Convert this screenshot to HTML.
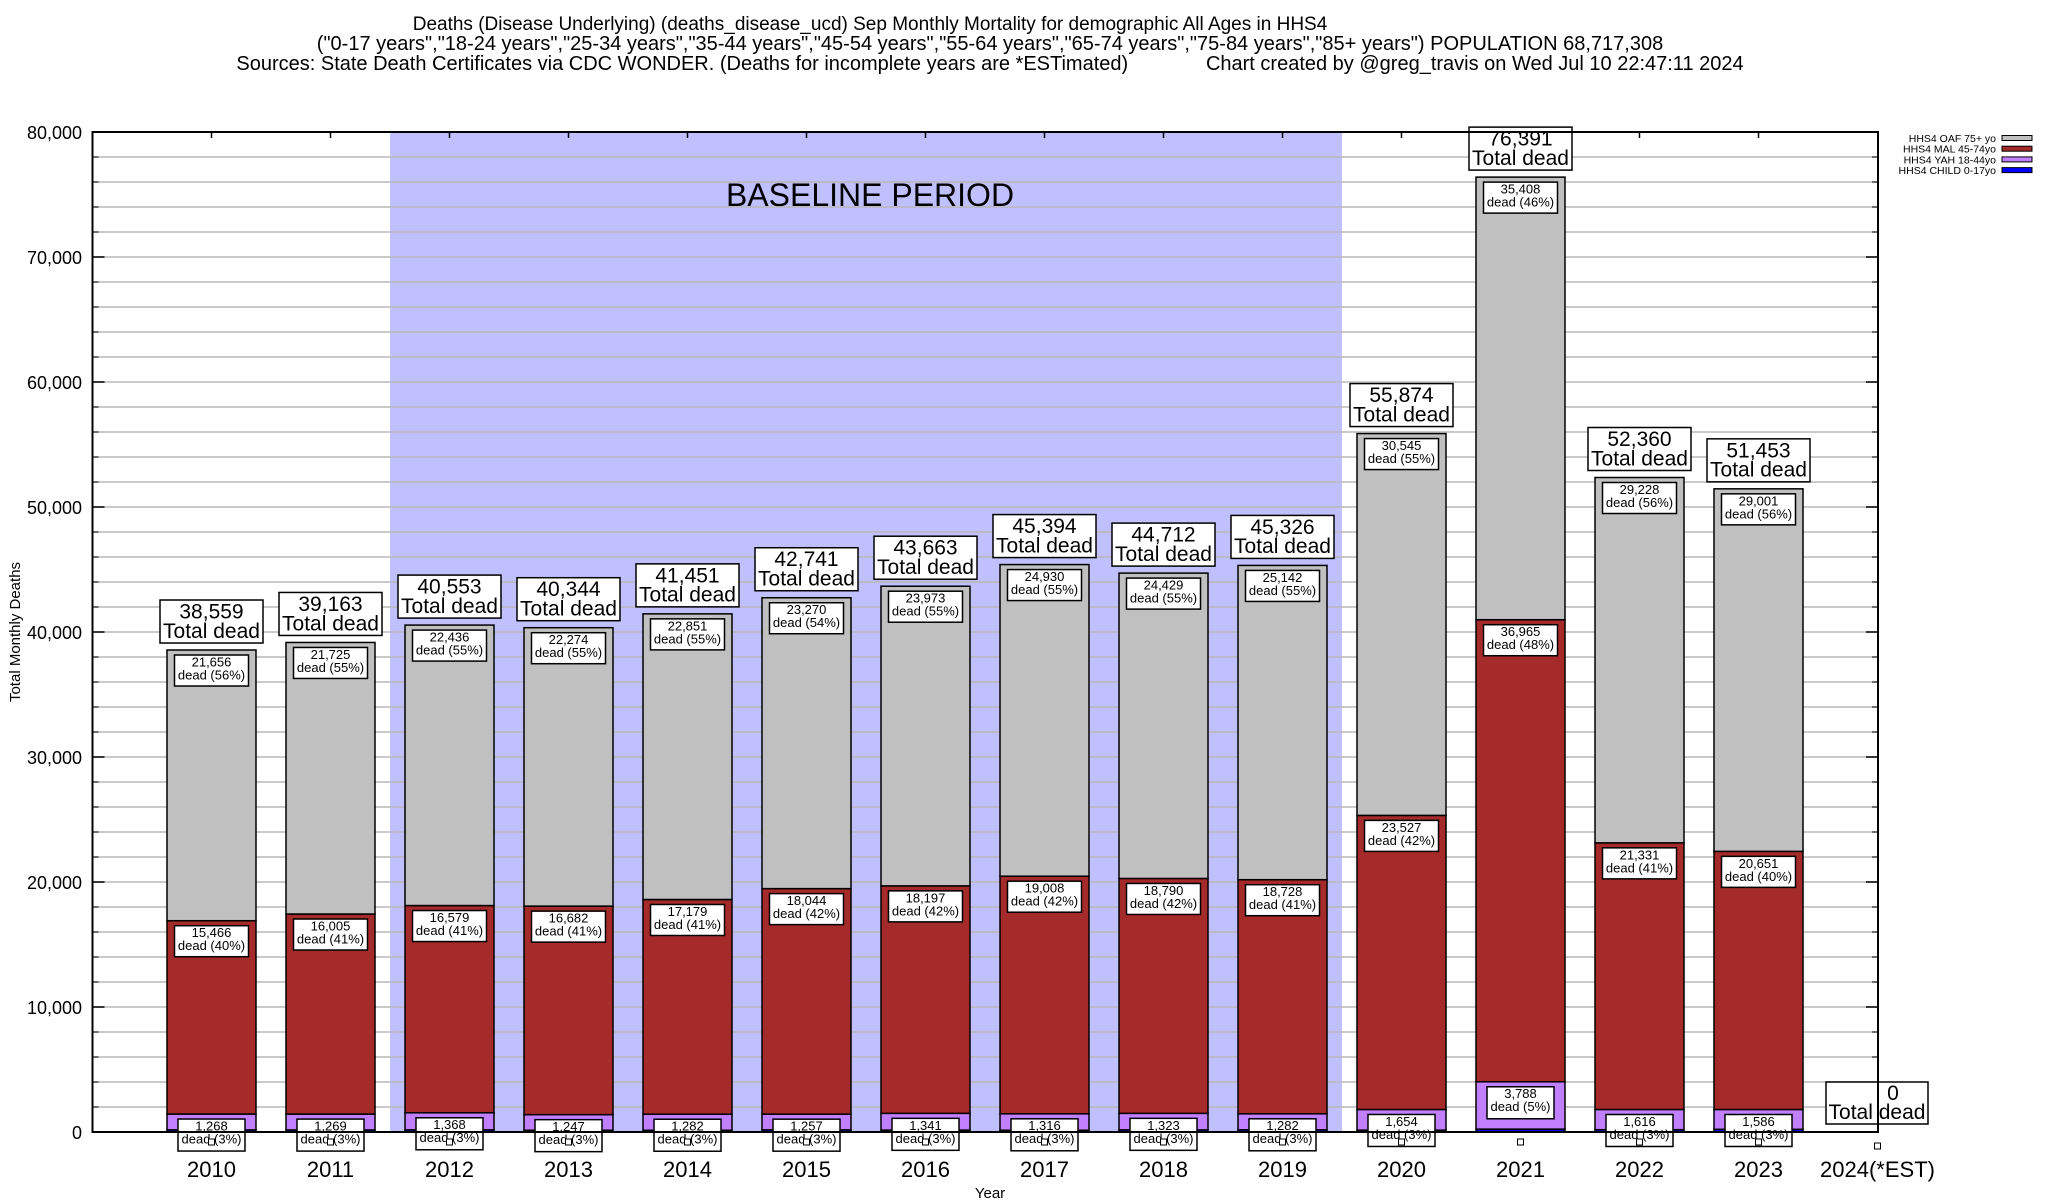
<!DOCTYPE html>
<html><head><meta charset="utf-8">
<style>
html,body{margin:0;padding:0;background:#fff;}
svg{display:block;font-family:"Liberation Sans",Arial,sans-serif;}
</style></head>
<body>
<svg id="chart" width="2048" height="1200" viewBox="0 0 2048 1200" xmlns="http://www.w3.org/2000/svg">
<g text-anchor="middle" fill="#000">
<text x="870" y="30" font-size="19">Deaths (Disease Underlying) (deaths_disease_ucd) Sep Monthly Mortality for demographic All Ages in HHS4</text>
<text x="990" y="50" font-size="20">("0-17 years","18-24 years","25-34 years","35-44 years","45-54 years","55-64 years","65-74 years","75-84 years","85+ years") POPULATION 68,717,308</text>
<text x="990" y="70" font-size="20" xml:space="preserve">Sources: State Death Certificates via CDC WONDER. (Deaths for incomplete years are *ESTimated)              Chart created by @greg_travis on Wed Jul 10 22:47:11 2024</text>
</g>
<g id="plot"></g>
</svg>
<script>
const years = ["2010","2011","2012","2013","2014","2015","2016","2017","2018","2019","2020","2021","2022","2023"];
const totals = [38559,39163,40553,40344,41451,42741,43663,45394,44712,45326,55874,76391,52360,51453];
const oaf = [21656,21725,22436,22274,22851,23270,23973,24930,24429,25142,30545,35408,29228,29001];
const oafPct = [56,55,55,55,55,54,55,55,55,55,55,46,56,56];
const mal = [15466,16005,16579,16682,17179,18044,18197,19008,18790,18728,23527,36965,21331,20651];
const malPct = [40,41,41,41,41,42,42,42,42,41,42,48,41,40];
const yah = [1268,1269,1368,1247,1282,1257,1341,1316,1323,1282,1654,3788,1616,1586];
const yahPct = [3,3,3,3,3,3,3,3,3,3,3,5,3,3];
const yTicks = [0,10000,20000,30000,40000,50000,60000,70000,80000];
const legendLabels = ["HHS4 OAF 75+ yo","HHS4 MAL 45-74yo","HHS4 YAH 18-44yo","HHS4 CHILD 0-17yo"];
const legendColors = ["#c0c0c0","#a52a2a","#c080ff","#0000ff"];

const NS="http://www.w3.org/2000/svg";
const L=92.5,R=1878,T=132,B=1132;
const xs=v=>L+(v-2009)*119;
const ys=v=>B-(v/80000)*(B-T);
const fmt=n=>n.toLocaleString('en-US');
const plot=document.getElementById('plot');
function el(tag,attrs,parent,text){const e=document.createElementNS(NS,tag);for(const k in attrs)e.setAttribute(k,attrs[k]);if(text!==undefined)e.textContent=text;(parent||plot).appendChild(e);return e;}

const bs=el('rect',{x:xs(2011.5),y:T,width:xs(2019.5)-xs(2011.5),height:B-T,fill:'#c0c0ff'});


const bt=el('text',{x:870,y:206,'font-size':32,'text-anchor':'middle'},plot,'BASELINE PERIOD');



for(let v=2000;v<80000;v+=2000){
  const g=el('line',{x1:L,x2:R,y1:ys(v),y2:ys(v),stroke:'#b8b8b8','stroke-width':1.5});
  
  
  el('line',{x1:L,x2:L+6,y1:ys(v),y2:ys(v),stroke:'#000','stroke-width':1});
  el('line',{x1:R-6,x2:R,y1:ys(v),y2:ys(v),stroke:'#000','stroke-width':1});
}
yTicks.forEach(v=>{
  const t=el('text',{x:82,y:ys(v)+7,'font-size':18,'text-anchor':'end'},plot,fmt(v));
  
  
  el('line',{x1:L,x2:L+12,y1:ys(v),y2:ys(v),stroke:'#000','stroke-width':1.5});
  el('line',{x1:R-12,x2:R,y1:ys(v),y2:ys(v),stroke:'#000','stroke-width':1.5});
});

function labelBox(cx,top,w,h,lines,fs,name,lh){
  const g=el('g',{});
  
  
  el('rect',{x:cx-w/2,y:top,width:w,height:h,fill:'#fff',stroke:'#000','stroke-width':1.5},g);
  lines.forEach((s,i)=>el('text',{x:cx,y:top+fs*0.88+i*fs*lh,'font-size':fs,'text-anchor':'middle'},g,s));
}

const bw=89;
years.forEach((yr,i)=>{
  const cx=xs(2010+i);
  const child=totals[i]-oaf[i]-mal[i]-yah[i];
  const segs=[[child,'#0000ff','child'],[yah[i],'#c080ff','yah'],[mal[i],'#a52a2a','mal'],[oaf[i],'#c0c0c0','oaf']];
  let acc=0;
  segs.forEach(([v,c,n])=>{
    const r=el('rect',{x:cx-bw/2,y:ys(acc+v),width:bw,height:ys(acc)-ys(acc+v),fill:c,stroke:'#000','stroke-width':1.5});
    
    
    acc+=v;
  });
  labelBox(cx,ys(totals[i])+5,74,31,[fmt(oaf[i]),'dead ('+oafPct[i]+'%)'],13,'oaf-label-'+yr,1.0);
  labelBox(cx,ys(child+yah[i]+mal[i])+5,74,31,[fmt(mal[i]),'dead ('+malPct[i]+'%)'],13,'mal-label-'+yr,1.0);
  labelBox(cx,ys(child+yah[i])+5,67,32,[fmt(yah[i]),'dead ('+yahPct[i]+'%)'],13,'yah-label-'+yr,1.0);
  labelBox(cx,ys(totals[i])-50,103,43,[fmt(totals[i]),'Total dead'],21,'total-label-'+yr,0.92);
  el('rect',{x:cx-3,y:1139,width:6,height:6,fill:'#fff',stroke:'#000','stroke-width':1});
  const xl=el('text',{x:cx,y:1177,'font-size':22,'text-anchor':'middle'},plot,yr);
  
  
  el('line',{x1:cx,x2:cx,y1:T,y2:T+6,stroke:'#000','stroke-width':1.5});
});
(function(){
  const cx=xs(2024);
  const g=el('g',{});
  
  
  el('rect',{x:1826,y:1082,width:102,height:42,fill:'#fff',stroke:'#000','stroke-width':1.5},g);
  el('text',{x:1893,y:1100,'font-size':21,'text-anchor':'middle'},g,'0');
  el('text',{x:1877,y:1119,'font-size':21,'text-anchor':'middle'},g,'Total dead');
  el('rect',{x:cx-3,y:1143,width:6,height:6,fill:'#fff',stroke:'#000','stroke-width':1});
  const xl=el('text',{x:cx,y:1177,'font-size':22,'text-anchor':'middle'},plot,'2024(*EST)');
  
  
})();

const fr=el('rect',{x:L,y:T,width:R-L,height:B-T,fill:'none',stroke:'#000','stroke-width':2});



const yt=el('text',{x:20,y:632,'font-size':15,'text-anchor':'middle',transform:'rotate(-90 20 632)'},plot,'Total Monthly Deaths');


const xt=el('text',{x:990,y:1198,'font-size':15,'text-anchor':'middle'},plot,'Year');



legendLabels.forEach((lab,i)=>{
  const y=138+i*10.7;
  const g=el('g',{});
  
  
  el('text',{x:1996,y:y+4,'font-size':10.5,'text-anchor':'end'},g,lab);
  el('rect',{x:2002,y:y-2.5,width:30,height:5,fill:legendColors[i],stroke:'#000','stroke-width':1},g);
});
</script>
</body></html>
